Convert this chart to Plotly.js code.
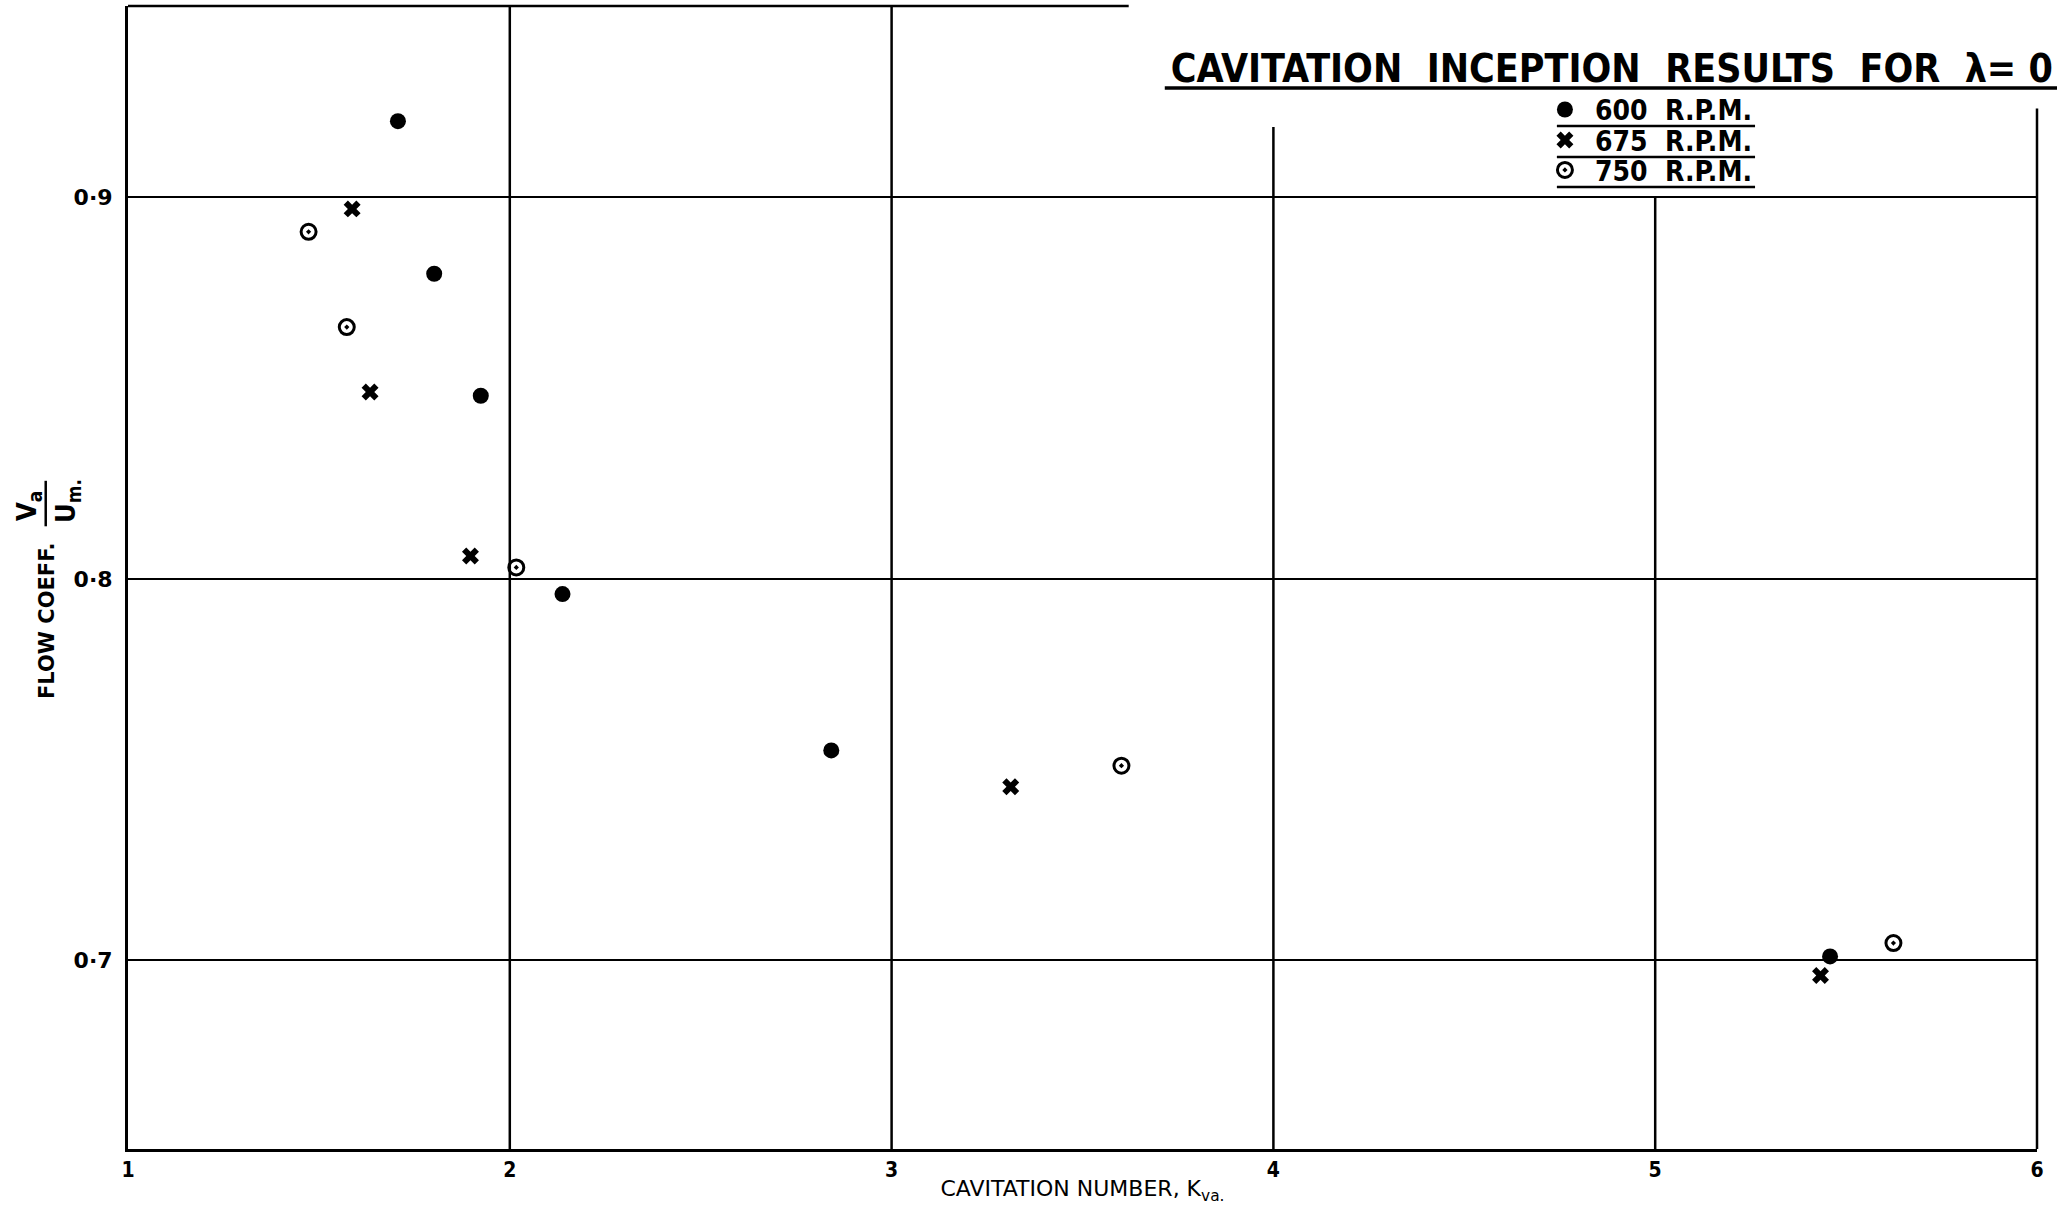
<!DOCTYPE html>
<html>
<head>
<meta charset="utf-8">
<script src="https://cdn.plot.ly/plotly-3.0.1.min.js"></script>
<style>
html,body{margin:0;padding:0;background:#fff;}
#chart{width:2057px;height:1221px;}
</style>
</head>
<body>
<div id="chart"></div>
<script>
// ---- Data ----
const rpm600_x = [1.707, 1.802, 1.924, 2.138, 2.842, 5.458];
const rpm600_y = [0.920, 0.880, 0.848, 0.796, 0.755, 0.701];
const rpm675_x = [1.587, 1.634, 1.897, 3.312, 5.433];
const rpm675_y = [0.897, 0.849, 0.806, 0.7455, 0.696];
const rpm750_x = [1.473, 1.573, 2.017, 3.602, 5.624];
const rpm750_y = [0.891, 0.866, 0.803, 0.751, 0.7045];
const seriesNames = ['600\u00a0\u00a0R.P.M.', '675\u00a0\u00a0R.P.M.', '750\u00a0\u00a0R.P.M.'];
const xTickVals = [1, 2, 3, 4, 5, 6];
const xTickText = ['1', '2', '3', '4', '5', '6'];
const yTickVals = [0.7, 0.8, 0.9];
const yTickText = ['0\u00b77', '0\u00b78', '0\u00b79'];
const chartTitle = 'CAVITATION\u00a0\u00a0INCEPTION\u00a0\u00a0RESULTS\u00a0\u00a0FOR\u00a0\u00a0\u03bb=\u00a00';
const xTitle = 'CAVITATION NUMBER, K<sub>va.</sub>';
const yTitle = 'FLOW COEFF.';
const yTitleNum = 'V<sub>a</sub>';
const yTitleDen = 'U<sub>m.</sub>';

// ---- Styling / layout ----
const INK = '#000';
const xRange = [1, 6];
const yRange = [0.6505, 0.9502];
const COND = 'DejaVu Sans Condensed, DejaVu Sans, sans-serif';
const SANS = 'DejaVu Sans, sans-serif';

const markerStyles = [
  {symbol: 'circle', size: 16, color: INK},
  {symbol: 'x', size: 15, color: INK, line: {width: 0}},
  {symbol: 'circle-open-dot', size: 15, color: INK, line: {width: 3, color: INK}}
];
const seriesX = [rpm600_x, rpm675_x, rpm750_x];
const seriesY = [rpm600_y, rpm675_y, rpm750_y];
const legendIds = ['legend', 'legend2', 'legend3'];

const traces = seriesNames.map((nm, i) => ({
  type: 'scatter', mode: 'markers', name: nm, x: seriesX[i], y: seriesY[i],
  marker: markerStyles[i], legend: legendIds[i]
}));

function vline(x, ytop, xref) {
  return {type: 'line', layer: 'below', xref: xref || 'x', yref: 'y', x0: x, x1: x, y0: yRange[0], y1: ytop,
          line: {color: INK, width: 2.5}};
}
function hline(xref, x0, x1, yref, y, w) {
  return {type: 'line', xref: xref, yref: yref, x0: x0, x1: x1, y0: y, y1: y, line: {color: INK, width: w}};
}
const legendRowY = [0.9092, 0.8825, 0.8563];
const legendLineY = [0.895, 0.8679, 0.8416];
const shapes = [
  vline(2, yRange[1]), vline(3, yRange[1]), vline(4, 0.9185), vline(5, 0.9), vline(1, 0.9233, 'paper'),
  hline('x', 1, 3.621, 'paper', 1, 2.5),                  // partial top frame
  hline('paper', 0.5431, 1.0105, 'paper', 0.9283, 3.5),   // title underline
  ...legendLineY.map(y => hline('paper', 0.7485, 0.8523, 'paper', y, 2.5)),
  // fraction bar of the y title
  {type: 'line', xref: 'paper', yref: 'paper', x0: -0.0431, x1: -0.0431, y0: 0.5448, y1: 0.5846, line: {color: INK, width: 2.5}}
];

const annotations = [
  {xref: 'paper', yref: 'paper', x: 0, y: 0.4619, xshift: -81, xanchor: 'center', yanchor: 'middle',
   text: yTitle, textangle: -90, showarrow: false, font: {family: SANS, size: 21, color: INK, weight: 'bold'}},
  {xref: 'paper', yref: 'paper', x: 0, y: 0.5626, xshift: -99, xanchor: 'center', yanchor: 'middle',
   text: yTitleNum, textangle: -90, showarrow: false, font: {family: COND, size: 27, color: INK, weight: 'bold'}},
  {xref: 'paper', yref: 'paper', x: 0, y: 0.5669, xshift: -61, xanchor: 'center', yanchor: 'middle',
   text: yTitleDen, textangle: -90, showarrow: false, font: {family: COND, size: 27, color: INK, weight: 'bold'}}
];

const legendBase = {x: 0.737, xanchor: 'left', yanchor: 'middle', bgcolor: 'rgba(0,0,0,0)', borderwidth: 0,
                    font: {family: COND, size: 28, color: INK, weight: 'bold'}, itemwidth: 50};

const layout = {
  width: 2057, height: 1221,
  paper_bgcolor: '#fff', plot_bgcolor: '#fff',
  margin: {l: 128, r: 20, t: 6, b: 72, pad: 0},
  showlegend: true,
  title: {text: chartTitle, font: {family: COND, size: 39, color: INK, weight: 'bold'},
          xref: 'container', x: 0.998, xanchor: 'right', yref: 'container', y: 0.9554, yanchor: 'top'},
  legend: Object.assign({}, legendBase, {y: legendRowY[0]}),
  legend2: Object.assign({}, legendBase, {y: legendRowY[1]}),
  legend3: Object.assign({}, legendBase, {y: legendRowY[2]}),
  xaxis: {range: xRange, tickvals: xTickVals, ticktext: xTickText, showgrid: false, zeroline: false,
          showline: true, linecolor: INK, linewidth: 3, ticks: '',
          tickfont: {family: COND, size: 21, color: INK, weight: 'bold'},
          title: {text: xTitle, font: {family: SANS, size: 22, color: INK}, standoff: 0}},
  yaxis: {range: yRange, tickvals: yTickVals, ticktext: yTickText, showgrid: true, gridcolor: INK, gridwidth: 2,
          zeroline: false, showline: true, linecolor: INK, linewidth: 3, ticks: '', ticklabelstandoff: 8,
          tickfont: {family: SANS, size: 22, color: INK, weight: 'bold'}},
  shapes: shapes,
  annotations: annotations
};

Plotly.newPlot('chart', traces, layout, {displayModeBar: false, staticPlot: true});
</script>
</body>
</html>
